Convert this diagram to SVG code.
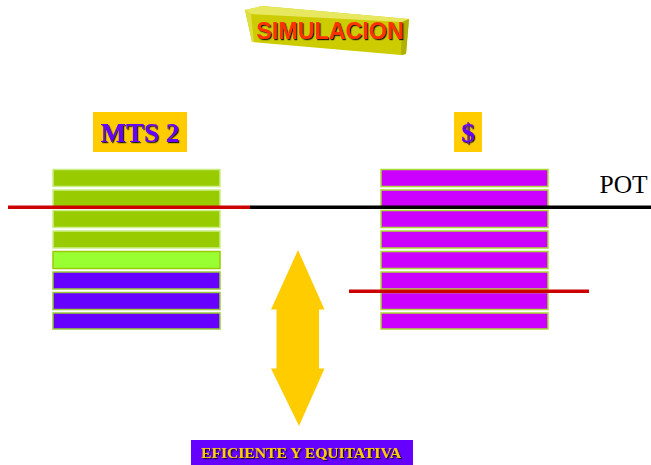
<svg xmlns="http://www.w3.org/2000/svg" width="651" height="465" viewBox="0 0 651 465">
  <defs>
    <style>
      .bar { stroke-width: 1.5; }
      .g { fill: #99cc00; stroke: #ccee88; }
      .lg { fill: #99ff33; stroke: #99cc00; }
      .pu { fill: #6600ff; stroke: #99cc33; }
      .mg { fill: #cc00ff; stroke: #aadd33; }
      .lbl { font-family: "Liberation Serif", "Times New Roman", serif; font-weight: bold; text-anchor: middle; }
      .line { stroke-width: 3.5; fill: none; }
    </style>
    <filter id="shadow" x="-10%" y="-10%" width="130%" height="140%">
      <feDropShadow dx="1.2" dy="1.2" stdDeviation="0.3" flood-color="#000000" flood-opacity="0.85"/>
    </filter>
  </defs>
  <rect width="651" height="465" fill="#ffffff"/>

  <!-- title block -->
  <g id="title">
    <polygon points="245,10 262,6 409,19 406,54 401,55 252,42" fill="#cccc00"/>
    <polygon points="245,10 262,6 409,19 402,22 251,14" fill="#e8e860"/>
    <polygon points="245,10 251,14 254,42 252,42" fill="#dede40"/>
    <polygon points="402,22 409,19 406,54 401,55" fill="#b0b000"/>
    <text x="330" y="38.5" font-family="Liberation Sans, Arial, sans-serif" font-weight="bold" font-size="23.3" fill="#ff3300" text-anchor="middle" filter="url(#shadow)">SIMULACION</text>
  </g>

  <!-- column headings -->
  <g id="label-mts">
    <rect x="93" y="112" width="94" height="40" fill="#ffcc00"/>
    <text class="lbl" x="140" y="141.5" font-size="27" fill="#6600ff" filter="url(#shadow)">MTS 2</text>
  </g>
  <g id="label-dollar">
    <rect x="454" y="112" width="28" height="40" fill="#ffcc00"/>
    <text class="lbl" x="468" y="141.5" font-size="27" fill="#6600ff" filter="url(#shadow)">$</text>
  </g>

  <!-- left stack -->
  <g id="stack-mts">
    <rect class="bar g" x="53" y="169.5" width="167" height="17"/>
    <rect class="bar g" x="53" y="190" width="167" height="17"/>
    <rect class="bar g" x="53" y="210.5" width="167" height="17"/>
    <rect class="bar g" x="53" y="231" width="167" height="17"/>
    <rect class="bar lg" x="53" y="251.5" width="167" height="17"/>
    <rect class="bar pu" x="53" y="272" width="167" height="17"/>
    <rect class="bar pu" x="53" y="292.5" width="167" height="17"/>
    <rect class="bar pu" x="53" y="313" width="167" height="16"/>
  </g>

  <!-- right stack -->
  <g id="stack-dollar">
    <rect class="bar mg" x="381" y="169.5" width="167" height="17"/>
    <rect class="bar mg" x="381" y="190" width="167" height="17"/>
    <rect class="bar mg" x="381" y="210.5" width="167" height="17"/>
    <rect class="bar mg" x="381" y="231" width="167" height="17"/>
    <rect class="bar mg" x="381" y="251.5" width="167" height="17"/>
    <rect class="bar mg" x="381" y="272" width="167" height="17"/>
    <rect class="bar mg" x="381" y="292.5" width="167" height="17"/>
    <rect class="bar mg" x="381" y="313" width="167" height="16"/>
  </g>

  <!-- level lines -->
  <g id="connectors">
    <line class="line" x1="250" y1="207.3" x2="651" y2="207.3" stroke="#000000"/>
    <line class="line" x1="8" y1="207.3" x2="250" y2="207.3" stroke="#cc0000"/>
    <line class="line" x1="349" y1="291.3" x2="589" y2="291.3" stroke="#cc0000"/>
  </g>

  <g id="pot">
    <text x="599.5" y="193.3" font-family="Liberation Serif, Times New Roman, serif" font-size="25.5" fill="#000000">POT</text>
  </g>

  <!-- double arrow -->
  <g id="arrow">
    <polygon points="298,250 324.5,309.5 319,309.5 319,368.5 324.5,368.5 299,426 271,368.5 276.5,368.5 276.5,309.5 271,309.5" fill="#ffcc00"/>
  </g>

  <!-- result label -->
  <g id="label-result">
    <rect x="191" y="440" width="222" height="25" fill="#6600ff"/>
    <text class="lbl" x="301" y="458" font-size="15.6" fill="#ffcc00" filter="url(#shadow)">EFICIENTE Y EQUITATIVA</text>
  </g>
</svg>
